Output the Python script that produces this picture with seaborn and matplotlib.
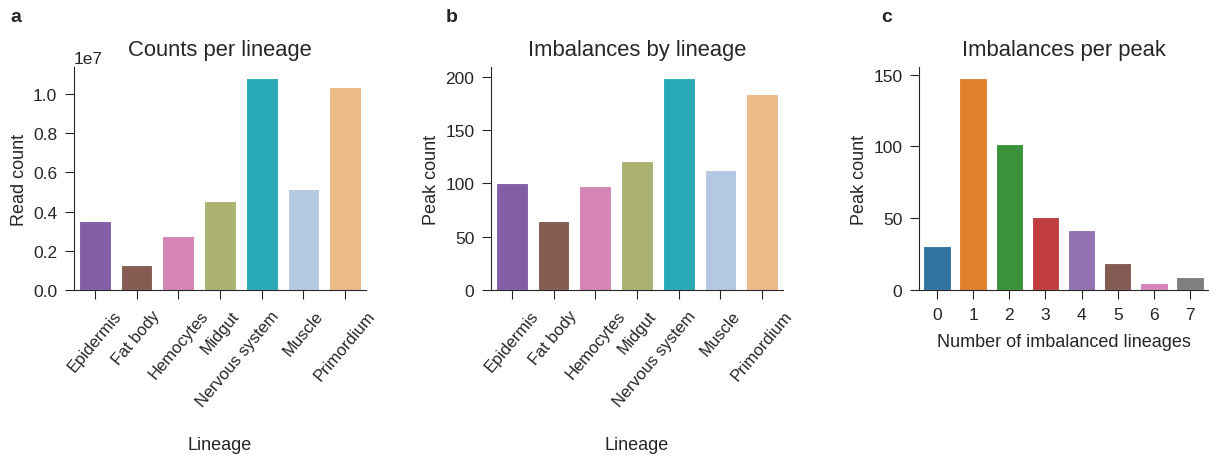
import matplotlib
matplotlib.use("Agg")
import matplotlib.pyplot as plt
import matplotlib.transforms as mtransforms
import seaborn as sns
import pandas as pd

lineages = ["Epidermis", "Fat body", "Hemocytes", "Midgut", "Nervous system", "Muscle", "Primordium"]
read_counts = [0.351e7, 0.129e7, 0.277e7, 0.456e7, 1.084e7, 0.513e7, 1.038e7]
peak_counts = [100, 65, 97, 121, 199, 112, 184]
n_imbalanced = ["0", "1", "2", "3", "4", "5", "6", "7"]
peaks_per_n = [31, 148, 102, 51, 42, 19, 5, 9]

lineage_colors = ["#825ea6", "#845c52", "#d484b5", "#abb272", "#2aaab7", "#b4c8e2", "#edb987"]
count_colors = sns.color_palette("tab10", 8)

sns.set_style("ticks")
plt.rcParams["font.family"] = ["Liberation Sans", "DejaVu Sans"]
plt.rcParams["xtick.labelsize"] = 12
plt.rcParams["ytick.labelsize"] = 12.5
plt.rcParams["axes.labelsize"] = 13
plt.rcParams["axes.titlesize"] = 15.8
plt.rcParams["xtick.major.size"] = 6.5
plt.rcParams["ytick.major.size"] = 6.5
plt.rcParams["xtick.major.pad"] = 6
plt.rcParams["ytick.major.pad"] = 5.5

fig = plt.figure(figsize=(12.09, 4.56), dpi=100)
W, H = 1209, 456
def rect(l, r, t, b):
    return [l / W, 1 - b / H, (r - l) / W, (b - t) / H]

ax_a = fig.add_axes(rect(74, 366, 68, 291))
ax_b = fig.add_axes(rect(491, 783, 68, 291))
ax_c = fig.add_axes(rect(919, 1208, 68, 291))

bar_kw = dict(width=0.76, edgecolor="white", linewidth=0.8, legend=False)

df_a = pd.DataFrame({"Lineage": lineages, "Read count": read_counts})
sns.barplot(data=df_a, x="Lineage", y="Read count", hue="Lineage",
            palette=lineage_colors, saturation=1, ax=ax_a, **bar_kw)
ax_a.set_title("Counts per lineage", pad=8.5)

df_b = pd.DataFrame({"Lineage": lineages, "Peak count": peak_counts})
sns.barplot(data=df_b, x="Lineage", y="Peak count", hue="Lineage",
            palette=lineage_colors, saturation=1, ax=ax_b, **bar_kw)
ax_b.set_title("Imbalances by lineage", pad=8.5)
ax_b.set_yticks([0, 50, 100, 150, 200])

df_c = pd.DataFrame({"Number of imbalanced lineages": n_imbalanced, "Peak count": peaks_per_n})
sns.barplot(data=df_c, x="Number of imbalanced lineages", y="Peak count",
            hue="Number of imbalanced lineages", palette=count_colors,
            ax=ax_c, **bar_kw)
ax_c.set_title("Imbalances per peak", pad=8.5)
ax_c.set_yticks([0, 50, 100, 150])
ax_c.tick_params(axis="x", labelsize=12.5)

for ax in (ax_a, ax_b, ax_c):
    ax.set_xlim(-0.5, len(ax.get_xticks()) - 0.5)
    sns.despine(ax=ax)

for ax in (ax_a, ax_b):
    ax.tick_params(axis="x", rotation=50)
    for lab in ax.get_xticklabels():
        lab.set_ha("center")
        if lab.get_text() == "Nervous system":
            lab.set_transform(lab.get_transform() +
                              mtransforms.ScaledTranslation(-0.24, 0, fig.dpi_scale_trans))
    ax.xaxis.labelpad = 20

ax_c.xaxis.labelpad = 8

fig.text(16 / W, 1 - 18 / H, "a", fontsize=14, fontweight="bold", va="center", ha="center")
fig.text(452 / W, 1 - 18 / H, "b", fontsize=14, fontweight="bold", va="center", ha="center")
fig.text(887 / W, 1 - 18 / H, "c", fontsize=14, fontweight="bold", va="center", ha="center")

fig.savefig("out.png", dpi=100)
